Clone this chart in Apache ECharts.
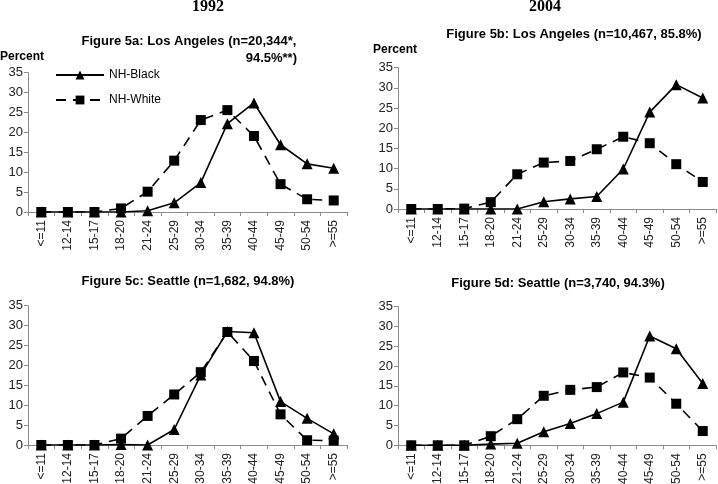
<!DOCTYPE html>
<html>
<head>
<meta charset="utf-8">
<script src="https://cdn.jsdelivr.net/npm/echarts@6/dist/echarts.min.js"></script>
<style>
  html, body { margin: 0; padding: 0; background: #fff; }
  #chart { width: 718px; height: 484px; }
</style>
</head>
<body>
<div id="chart"></div>
<script>
const ageGroups = ['<=11', '12-14', '15-17', '18-20', '21-24', '25-29', '30-34', '35-39', '40-44', '45-49', '50-54', '>=55']
const yTicks = [0, 35, 5]

// Figure 5a: Los Angeles 1992
const laBlack1992 = [0, 0, 0, 0, 0.3, 2.3, 7.4, 22.2, 27.4, 16.9, 12.1, 11.0]
const laWhite1992 = [0, 0, 0, 0.9, 5.1, 12.9, 23.1, 25.6, 19.1, 7.0, 3.2, 2.9]
// Figure 5b: Los Angeles 2004
const laBlack2004 = [0, 0, 0, 0, 0, 1.8, 2.5, 3.1, 9.9, 24.0, 30.8, 27.5]
const laWhite2004 = [0, 0, 0.1, 1.7, 8.6, 11.5, 11.9, 14.8, 17.9, 16.3, 11.1, 6.7]
// Figure 5c: Seattle 1992
const seBlack1992 = [0, 0, 0, 0.1, 0, 3.9, 17.6, 28.5, 28.2, 10.9, 6.7, 2.8]
const seWhite1992 = [0, 0, 0, 1.6, 7.3, 12.7, 18.3, 28.4, 21.1, 7.7, 1.2, 1.1]
// Figure 5d: Seattle 2004
const seBlack2004 = [0, 0, 0, 0.3, 0.5, 3.4, 5.5, 8.0, 10.9, 27.6, 24.4, 15.6]
const seWhite2004 = [0, 0, 0, 2.3, 6.6, 12.5, 14.0, 14.7, 18.4, 17.1, 10.5, 3.6]

const panels = [
  { black: laBlack1992, white: laWhite1992, grid: { left: 28, top: 72.7, width: 319, height: 139.3 } },
  { black: laBlack2004, white: laWhite2004, grid: { left: 398, top: 67.7, width: 318, height: 141.3 } },
  { black: seBlack1992, white: seWhite1992, grid: { left: 28, top: 305.7, width: 319, height: 139.3 } },
  { black: seBlack2004, white: seWhite2004, grid: { left: 398, top: 306.7, width: 318, height: 138.6 } }
]

const font = 'Arial, "Liberation Sans", sans-serif'
const axisGray = '#8a8a8a'

const chart = echarts.init(document.getElementById('chart'))

const txt = (text, x, y, opts = {}) => ({
  type: 'text',
  x, y,
  style: Object.assign({
    text,
    fill: '#000',
    font: `bold 13px ${font}`,
    textAlign: 'center',
    textVerticalAlign: 'middle'
  }, opts)
})

const option = {
  animation: false,
  backgroundColor: '#fff',
  legend: {
    data: ['NH-Black', 'NH-White'],
    orient: 'vertical',
    left: 55,
    top: 69,
    padding: 0,
    itemWidth: 48,
    itemHeight: 11,
    itemGap: 13,
    textStyle: { fontFamily: font, fontSize: 12, color: '#000' }
  },
  // keep the plot areas fixed; labels may run to the canvas edge
  grid: panels.map(p => Object.assign({ outerBoundsMode: 'none', containLabel: false }, p.grid)),
  xAxis: panels.map((p, i) => ({
    type: 'category',
    gridIndex: i,
    data: ageGroups,
    boundaryGap: true,
    axisLine: { lineStyle: { color: axisGray } },
    axisTick: { show: true, interval: 0, length: 4, lineStyle: { color: axisGray } },
    axisLabel: { interval: 0, rotate: 90, margin: 8, fontFamily: font, fontSize: 12, color: '#222' },
    splitLine: { show: false }
  })),
  yAxis: panels.map((p, i) => ({
    type: 'value',
    gridIndex: i,
    min: yTicks[0],
    max: yTicks[1],
    interval: yTicks[2],
    axisLine: { show: true, lineStyle: { color: axisGray } },
    axisTick: { show: true, length: 4, lineStyle: { color: axisGray } },
    axisLabel: { margin: 5, fontFamily: font, fontSize: 13, color: '#222' },
    splitLine: { show: false }
  })),
  series: panels.flatMap((p, i) => [
    {
      name: 'NH-Black',
      type: 'line',
      xAxisIndex: i,
      yAxisIndex: i,
      data: p.black,
      symbol: 'triangle',
      symbolSize: 11,
      itemStyle: { color: '#000' },
      lineStyle: { color: '#000', width: 1.6 },
      z: 2
    },
    {
      name: 'NH-White',
      type: 'line',
      xAxisIndex: i,
      yAxisIndex: i,
      data: p.white,
      symbol: 'rect',
      symbolSize: 10,
      itemStyle: { color: '#000' },
      lineStyle: { color: '#000', width: 1.6, type: [10, 7] },
      z: 3
    }
  ]),
  graphic: [
    txt('1992', 208, 7, { font: `bold 16px "Liberation Serif", "Times New Roman", serif` }),
    txt('2004', 545, 7, { font: `bold 16px "Liberation Serif", "Times New Roman", serif` }),
    txt('Figure 5a: Los Angeles (n=20,344*,', 189, 41),
    txt('94.5%**)', 297, 58, { textAlign: 'right' }),
    txt('Percent', 0, 57, { textAlign: 'left', font: `bold 12px ${font}` }),
    txt('Figure 5b: Los Angeles (n=10,467, 85.8%)', 574, 34),
    txt('Percent', 373, 50, { textAlign: 'left', font: `bold 12px ${font}` }),
    txt('Figure 5c: Seattle (n=1,682, 94.8%)', 188, 281),
    txt('Figure 5d: Seattle (n=3,740, 94.3%)', 558, 283)
  ]
}

chart.setOption(option)
</script>
</body>
</html>
